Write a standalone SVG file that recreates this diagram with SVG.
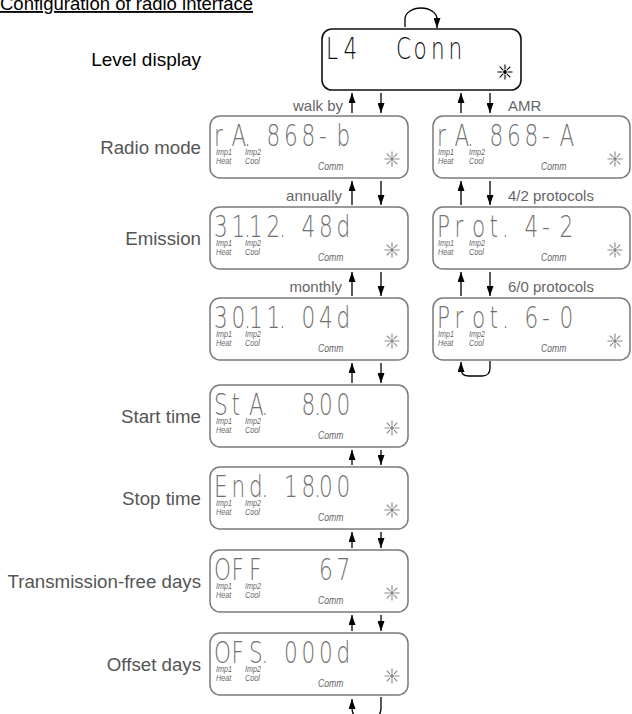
<svg xmlns="http://www.w3.org/2000/svg" xmlns:xlink="http://www.w3.org/1999/xlink" width="632" height="714" viewBox="0 0 632 714">
<style>
.box{fill:#fff;stroke:#7a7a7a;stroke-width:1.5}
.box0{fill:#fff;stroke:#111;stroke-width:1.6}
.lcd{font-family:"DejaVu Sans",sans-serif;font-weight:200;font-size:30px;fill:#707070}
.lcd0{font-family:"DejaVu Sans",sans-serif;font-weight:200;font-size:30px;fill:#111}
.sm{font-family:"Liberation Sans",Arial,sans-serif;font-style:italic;font-size:9px;fill:#666}
.cm{font-family:"Liberation Sans",Arial,sans-serif;font-style:italic;font-size:11.5px;fill:#666}
.lbl{font-family:"Liberation Sans",Arial,sans-serif;font-size:18.7px;fill:#555;text-anchor:end}
.albl{font-family:"Liberation Sans",Arial,sans-serif;font-size:15px;fill:#666}
.title{font-family:"Liberation Sans",Arial,sans-serif;font-size:18.5px;fill:#000;text-decoration:underline}
.conn path{fill:none;stroke:#000;stroke-width:1.3;marker-end:url(#arr)}
</style>
<defs>
<marker id="arr" viewBox="0 0 10 7" refX="10" refY="3.5" markerWidth="10" markerHeight="7" orient="auto" markerUnits="userSpaceOnUse"><path d="M0,0L10,3.5L0,7z" fill="#000"/></marker>
<g id="sun"><path d="M0,-7.5V-2.5M0,2.5V7.5M-7.5,0H-2.5M2.5,0H7.5M-5.3,-5.3L-1.8,-1.8M1.8,1.8L5.3,5.3M5.3,-5.3L1.8,-1.8M-1.8,1.8L-5.3,5.3" stroke="currentColor" stroke-width="1.1" fill="none"/><circle r="1.9" fill="currentColor"/></g>
</defs>

<text class="title" x="0" y="10">Configuration of radio interface</text>

<g id="labels">
<text class="lbl" x="201" y="66" style="fill:#000;font-size:19px">Level display</text>
<text class="lbl" x="201" y="153.5">Radio mode</text>
<text class="lbl" x="201" y="244.5">Emission</text>
<text class="lbl" x="201" y="422.5">Start time</text>
<text class="lbl" x="201" y="504.5">Stop time</text>
<text class="lbl" x="201" y="587.5">Transmission-free days</text>
<text class="lbl" x="201" y="670.5">Offset days</text>
<text class="albl" x="343" y="111" text-anchor="end">walk by</text>
<text class="albl" x="508" y="111">AMR</text>
<text class="albl" x="342" y="201" text-anchor="end">annually</text>
<text class="albl" x="342" y="292" text-anchor="end">monthly</text>
<text class="albl" x="508" y="201">4/2 protocols</text>
<text class="albl" x="508" y="292">6/0 protocols</text>
</g>

<g id="n-level" transform="translate(322,29)">
<rect class="box0" width="199" height="61" rx="10"/>
<text class="lcd0" transform="translate(4,30) scale(0.72,1)" x="0 24.3 48.6 97.2 121.5 145.8 170.1">L4 Conn</text>
<use href="#sun" x="183" y="43" style="color:#000"/>
</g>

<g id="n-radio-walkby" transform="translate(210,116)">
<rect class="box" width="198" height="62" rx="10"/>
<text class="lcd" transform="translate(4,30) scale(0.72,1)" x="0 24.3 41.7 48.6 72.9 97.2 121.5 145.8 170.1">rA. 868-b</text>
<text class="sm" transform="translate(6,39) scale(0.8,1)">Imp1</text>
<text class="sm" transform="translate(6,48) scale(0.8,1)">Heat</text>
<text class="sm" transform="translate(35,39) scale(0.8,1)">Imp2</text>
<text class="sm" transform="translate(35,48) scale(0.8,1)">Cool</text>
<text class="cm" transform="translate(108,54) scale(0.75,1)">Comm</text>
<use href="#sun" x="182" y="43" style="color:#888"/>
</g>

<g id="n-emission-annual" transform="translate(210,207)">
<rect class="box" width="198" height="62" rx="10"/>
<text class="lcd" transform="translate(4,30) scale(0.72,1)" x="0 24.3 41.7 48.6 72.9 90.3 97.2 121.5 145.8 170.1">31.12. 48d</text>
<text class="sm" transform="translate(6,39) scale(0.8,1)">Imp1</text>
<text class="sm" transform="translate(6,48) scale(0.8,1)">Heat</text>
<text class="sm" transform="translate(35,39) scale(0.8,1)">Imp2</text>
<text class="sm" transform="translate(35,48) scale(0.8,1)">Cool</text>
<text class="cm" transform="translate(108,54) scale(0.75,1)">Comm</text>
<use href="#sun" x="182" y="43" style="color:#888"/>
</g>

<g id="n-emission-monthly" transform="translate(210,298)">
<rect class="box" width="198" height="62" rx="10"/>
<text class="lcd" transform="translate(4,30) scale(0.72,1)" x="0 24.3 41.7 48.6 72.9 90.3 97.2 121.5 145.8 170.1">30.11. 04d</text>
<text class="sm" transform="translate(6,39) scale(0.8,1)">Imp1</text>
<text class="sm" transform="translate(6,48) scale(0.8,1)">Heat</text>
<text class="sm" transform="translate(35,39) scale(0.8,1)">Imp2</text>
<text class="sm" transform="translate(35,48) scale(0.8,1)">Cool</text>
<text class="cm" transform="translate(108,54) scale(0.75,1)">Comm</text>
<use href="#sun" x="182" y="43" style="color:#888"/>
</g>

<g id="n-start" transform="translate(210,385)">
<rect class="box" width="198" height="62" rx="10"/>
<text class="lcd" transform="translate(4,30) scale(0.72,1)" x="0 24.3 48.6 66 72.9 121.5 138.9 145.8 170.1">StA. 8.00</text>
<text class="sm" transform="translate(6,39) scale(0.8,1)">Imp1</text>
<text class="sm" transform="translate(6,48) scale(0.8,1)">Heat</text>
<text class="sm" transform="translate(35,39) scale(0.8,1)">Imp2</text>
<text class="sm" transform="translate(35,48) scale(0.8,1)">Cool</text>
<text class="cm" transform="translate(108,54) scale(0.75,1)">Comm</text>
<use href="#sun" x="182" y="43" style="color:#888"/>
</g>

<g id="n-stop" transform="translate(210,467)">
<rect class="box" width="198" height="62" rx="10"/>
<text class="lcd" transform="translate(4,30) scale(0.72,1)" x="0 24.3 48.6 66 72.9 97.2 121.5 138.9 145.8 170.1">End. 18.00</text>
<text class="sm" transform="translate(6,39) scale(0.8,1)">Imp1</text>
<text class="sm" transform="translate(6,48) scale(0.8,1)">Heat</text>
<text class="sm" transform="translate(35,39) scale(0.8,1)">Imp2</text>
<text class="sm" transform="translate(35,48) scale(0.8,1)">Cool</text>
<text class="cm" transform="translate(108,54) scale(0.75,1)">Comm</text>
<use href="#sun" x="182" y="43" style="color:#888"/>
</g>

<g id="n-offdays" transform="translate(210,550)">
<rect class="box" width="198" height="62" rx="10"/>
<text class="lcd" transform="translate(4,30) scale(0.72,1)" x="0 24.3 48.6 72.9 145.8 170.1">OFF 67</text>
<text class="sm" transform="translate(6,39) scale(0.8,1)">Imp1</text>
<text class="sm" transform="translate(6,48) scale(0.8,1)">Heat</text>
<text class="sm" transform="translate(35,39) scale(0.8,1)">Imp2</text>
<text class="sm" transform="translate(35,48) scale(0.8,1)">Cool</text>
<text class="cm" transform="translate(108,54) scale(0.75,1)">Comm</text>
<use href="#sun" x="182" y="43" style="color:#888"/>
</g>

<g id="n-offset" transform="translate(210,633)">
<rect class="box" width="198" height="62" rx="10"/>
<text class="lcd" transform="translate(4,30) scale(0.72,1)" x="0 24.3 48.6 66 72.9 97.2 121.5 145.8 170.1">OFS. 000d</text>
<text class="sm" transform="translate(6,39) scale(0.8,1)">Imp1</text>
<text class="sm" transform="translate(6,48) scale(0.8,1)">Heat</text>
<text class="sm" transform="translate(35,39) scale(0.8,1)">Imp2</text>
<text class="sm" transform="translate(35,48) scale(0.8,1)">Cool</text>
<text class="cm" transform="translate(108,54) scale(0.75,1)">Comm</text>
<use href="#sun" x="182" y="43" style="color:#888"/>
</g>

<g id="n-radio-amr" transform="translate(433,116)">
<rect class="box" width="197" height="62" rx="10"/>
<text class="lcd" transform="translate(4,30) scale(0.72,1)" x="0 24.3 41.7 48.6 72.9 97.2 121.5 145.8 170.1">rA. 868-A</text>
<text class="sm" transform="translate(5,39) scale(0.8,1)">Imp1</text>
<text class="sm" transform="translate(5,48) scale(0.8,1)">Heat</text>
<text class="sm" transform="translate(36,39) scale(0.8,1)">Imp2</text>
<text class="sm" transform="translate(36,48) scale(0.8,1)">Cool</text>
<text class="cm" transform="translate(108,54) scale(0.75,1)">Comm</text>
<use href="#sun" x="182" y="43" style="color:#888"/>
</g>

<g id="n-prot42" transform="translate(433,207)">
<rect class="box" width="197" height="62" rx="10"/>
<text class="lcd" transform="translate(4,30) scale(0.72,1)" x="0 24.3 48.6 72.9 90.3 97.2 121.5 145.8 170.1">Prot. 4-2</text>
<text class="sm" transform="translate(5,39) scale(0.8,1)">Imp1</text>
<text class="sm" transform="translate(5,48) scale(0.8,1)">Heat</text>
<text class="sm" transform="translate(36,39) scale(0.8,1)">Imp2</text>
<text class="sm" transform="translate(36,48) scale(0.8,1)">Cool</text>
<text class="cm" transform="translate(108,54) scale(0.75,1)">Comm</text>
<use href="#sun" x="182" y="43" style="color:#888"/>
</g>

<g id="n-prot60" transform="translate(433,298)">
<rect class="box" width="197" height="62" rx="10"/>
<text class="lcd" transform="translate(4,30) scale(0.72,1)" x="0 24.3 48.6 72.9 90.3 97.2 121.5 145.8 170.1">Prot. 6-0</text>
<text class="sm" transform="translate(5,39) scale(0.8,1)">Imp1</text>
<text class="sm" transform="translate(5,48) scale(0.8,1)">Heat</text>
<text class="sm" transform="translate(36,39) scale(0.8,1)">Imp2</text>
<text class="sm" transform="translate(36,48) scale(0.8,1)">Cool</text>
<text class="cm" transform="translate(108,54) scale(0.75,1)">Comm</text>
<use href="#sun" x="182" y="43" style="color:#888"/>
</g>

<g id="connectors" class="conn">
<path d="M405,27V19A16,11 0 0 1 437,19V28"/>
<path d="M352,113V93"/><path d="M381,93V113"/>
<path d="M461,113V93"/><path d="M490,93V113"/>
<path d="M352,205V181"/><path d="M381,181V205"/>
<path d="M461,205V181"/><path d="M490,181V205"/>
<path d="M352,296V272"/><path d="M381,272V296"/>
<path d="M461,296V272"/><path d="M490,272V296"/>
<path d="M490,361V368Q490,376 482,376H469Q461,376 461,369V362"/>
<path d="M352,383V363"/><path d="M381,363V383"/>
<path d="M352,465V450"/><path d="M381,450V465"/>
<path d="M352,548V532"/><path d="M381,532V548"/>
<path d="M352,631V615"/><path d="M381,615V631"/>
<path d="M381,697V708Q381,718 371,718H362Q352,718 352,708V699"/>
</g>
</svg>
